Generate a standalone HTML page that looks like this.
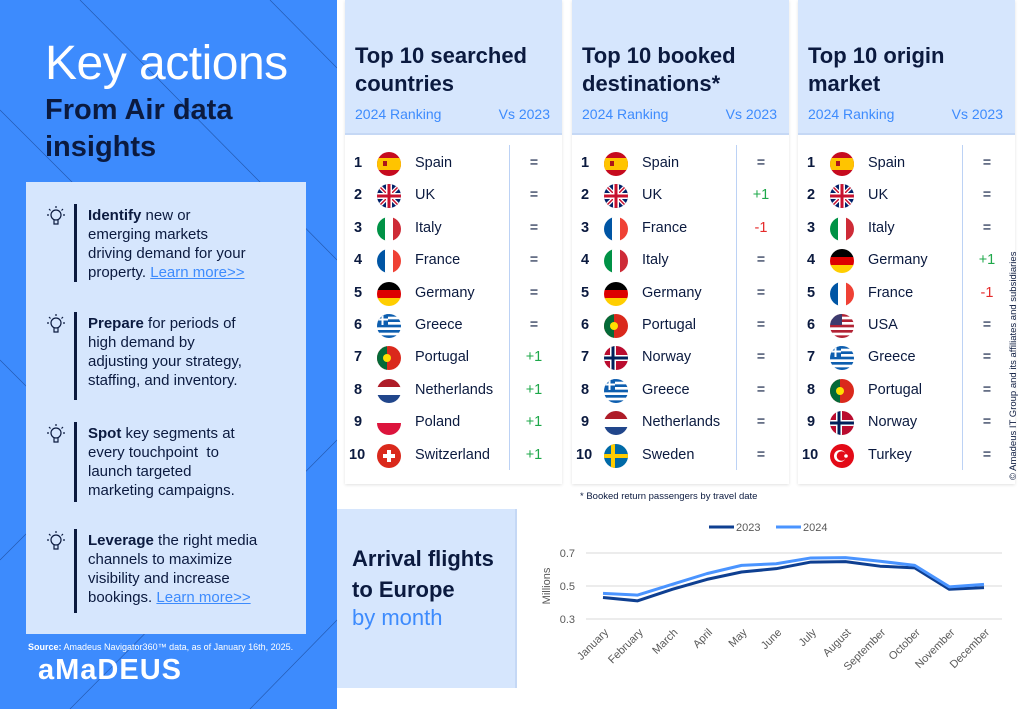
<!DOCTYPE html>
<html><head><meta charset="utf-8">
<style>
*{margin:0;padding:0;box-sizing:border-box}
body{width:1024px;height:709px;overflow:hidden;background:#fff;font-family:"Liberation Sans",sans-serif;position:relative;color:#0b1a3f}
#left{position:absolute;left:0;top:0;width:337px;height:709px;background:#3d8bfd;overflow:hidden}
.abs{position:absolute}
h1{position:absolute;left:45px;top:36px;font-size:48px;font-weight:normal;color:#fff;letter-spacing:-0.5px}
h2{position:absolute;left:45px;top:92px;font-size:29px;line-height:37px;color:#0b1a3f;font-weight:bold}
#box{position:absolute;left:26px;top:182px;width:280px;height:452px;background:#d6e6fd}
.item{position:absolute;left:48px;width:230px;font-size:15px;line-height:19px;color:#0b1a3f}
.item .bar{position:absolute;left:26px;top:0;width:3px;background:#0b1a3f}
.item .txt{position:absolute;left:40px;top:2px;white-space:nowrap}
.item a{color:#3d8bfd;text-decoration:underline}
.card{position:absolute;top:0;width:217px;height:484px;background:#fff;box-shadow:0 1px 3px rgba(0,0,0,0.12)}
.card .hd{position:absolute;left:0;top:0;width:100%;height:135px;background:#d6e6fd;border-bottom:2px solid #c5d8f5}
.card .t{position:absolute;left:10px;top:42px;font-size:22px;line-height:28px;font-weight:bold;color:#0b1a3f}
.card .sub{position:absolute;left:10px;top:106px;right:12px;font-size:14px;color:#3d8bfd}
.card .sub span:last-child{float:right}
.card .vl{position:absolute;left:164px;top:145px;width:1px;height:325px;background:#bcd2f5}
.row{position:absolute;left:0;width:100%;height:30px;font-size:14.5px}
.row .n{position:absolute;left:9px;top:6px;font-weight:bold}
.row svg{position:absolute;left:32px;top:3px}
.row .c{position:absolute;left:70px;top:6px}
.row .d{position:absolute;left:164px;width:50px;text-align:center;top:6px}
#arr{position:absolute;left:337px;top:509px;width:180px;height:179px;background:#d6e6fd;border-right:2px solid #c5d8f5}
</style></head><body>
<div id="left">
<svg class="abs" style="left:0;top:0" width="337" height="709">
<g stroke="#1f4fa0" stroke-width="0.7" opacity="0.8">
<line x1="80" y1="0" x2="337" y2="260"/><line x1="270" y1="0" x2="337" y2="68"/>
<line x1="0" y1="110" x2="170" y2="280"/><line x1="0" y1="360" x2="30" y2="390"/>
<line x1="0" y1="560" x2="30" y2="530"/><line x1="70" y1="709" x2="337" y2="440"/>
<line x1="250" y1="709" x2="337" y2="620"/></g></svg>
<h1>Key actions</h1>
<h2>From Air data<br>insights</h2>
<div id="box"></div>
<div class="abs" style="left:28px;top:642px;font-size:9px;color:#fff"><b>Source:</b> Amadeus Navigator360™ data, as of January 16th, 2025.</div>
<div class="abs" style="left:38px;top:654px;font-size:29px;color:#fff;font-weight:bold;letter-spacing:1px">aMaDEUS</div>
</div>
<div class="item" style="top:204px;height:80px"><div class="bar" style="height:78px"></div><div class="txt"><b>Identify</b> new or<br>emerging markets<br>driving demand for your<br>property. <a>Learn more&gt;&gt;</a></div></div>
<div class="item" style="top:312px;height:90px"><div class="bar" style="height:88px"></div><div class="txt"><b>Prepare</b> for periods of<br>high demand by<br>adjusting your strategy,<br>staffing, and inventory.</div></div>
<div class="item" style="top:422px;height:80px"><div class="bar" style="height:80px"></div><div class="txt"><b>Spot</b> key segments at<br>every touchpoint&nbsp; to<br>launch targeted<br>marketing campaigns.</div></div>
<div class="item" style="top:529px;height:86px"><div class="bar" style="height:84px"></div><div class="txt"><b>Leverage</b> the right media<br>channels to maximize<br>visibility and increase<br>bookings. <a>Learn more&gt;&gt;</a></div></div>

<div class="card" style="left:345px" id="c1"><div class="hd"></div><div class="t">Top 10 searched<br>countries</div><div class="sub"><span>2024 Ranking</span><span>Vs 2023</span></div><div class="vl"></div></div>
<div class="card" style="left:572px" id="c2"><div class="hd"></div><div class="t">Top 10 booked<br>destinations*</div><div class="sub"><span>2024 Ranking</span><span>Vs 2023</span></div><div class="vl"></div></div>
<div class="card" style="left:798px" id="c3"><div class="hd"></div><div class="t">Top 10 origin<br>market</div><div class="sub"><span>2024 Ranking</span><span>Vs 2023</span></div><div class="vl"></div></div>
<div class="abs" style="left:580px;top:491px;font-size:9.5px;color:#0b1a3f">* Booked return passengers by travel date</div>
<div class="abs" style="left:1008px;top:480px;transform:rotate(-90deg);transform-origin:0 0;font-size:9.5px;color:#0b1a3f;white-space:nowrap">© Amadeus IT Group and its affiliates and subsidiaries</div>

<div id="arr">
<div class="abs" style="left:15px;top:34px;font-size:22px;line-height:31px;font-weight:bold;color:#0b1a3f">Arrival flights<br>to Europe</div>
<div class="abs" style="left:15px;top:96px;font-size:22px;color:#3d8bfd">by month</div>
</div>
<svg id="chart" class="abs" style="left:520px;top:510px" width="504" height="199"></svg>

<script>
const months=["January","February","March","April","May","June","July","August","September","October","November","December"];
const series2023=[0.43,0.41,0.48,0.54,0.585,0.605,0.645,0.648,0.62,0.61,0.48,0.49];
const series2024=[0.455,0.445,0.51,0.575,0.625,0.635,0.67,0.672,0.65,0.625,0.495,0.51];
const yTicks=[0.3,0.5,0.7];
const searched=[["Spain","es","="],["UK","uk","="],["Italy","it","="],["France","fr","="],["Germany","de","="],["Greece","gr","="],["Portugal","pt","+1"],["Netherlands","nl","+1"],["Poland","pl","+1"],["Switzerland","ch","+1"]];
const booked=[["Spain","es","="],["UK","uk","+1"],["France","fr","-1"],["Italy","it","="],["Germany","de","="],["Portugal","pt","="],["Norway","no","="],["Greece","gr","="],["Netherlands","nl","="],["Sweden","se","="]];
const origin=[["Spain","es","="],["UK","uk","="],["Italy","it","="],["Germany","de","+1"],["France","fr","-1"],["USA","us","="],["Greece","gr","="],["Portugal","pt","="],["Norway","no","="],["Turkey","tr","="]];

function flag(code){
 let b='';
 const h=(c)=>c.map((col,i)=>`<rect x="0" y="${i*24/c.length}" width="24" height="${24/c.length+0.5}" fill="${col}"/>`).join('');
 const v=(c)=>c.map((col,i)=>`<rect x="${i*8}" y="0" width="8.5" height="24" fill="${col}"/>`).join('');
 switch(code){
 case 'es':b=`<rect width="24" height="24" fill="#c60b1e"/><rect y="6" width="24" height="12" fill="#ffc400"/><rect x="6" y="9" width="4" height="5" fill="#ad1519"/>`;break;
 case 'uk':b=`<rect width="24" height="24" fill="#012169"/><path d="M0 0L24 24M24 0L0 24" stroke="#fff" stroke-width="4"/><path d="M0 0L24 24M24 0L0 24" stroke="#c8102e" stroke-width="1.5"/><path d="M12 0V24M0 12H24" stroke="#fff" stroke-width="6"/><path d="M12 0V24M0 12H24" stroke="#c8102e" stroke-width="3"/>`;break;
 case 'it':b=v(["#009246","#fff","#ce2b37"]);break;
 case 'fr':b=v(["#0055a4","#fff","#ef4135"]);break;
 case 'de':b=h(["#000","#dd0000","#ffce00"]);break;
 case 'nl':b=h(["#ae1c28","#fff","#21468b"]);break;
 case 'pl':b=h(["#fff","#dc143c"]);break;
 case 'gr':b=h(["#0d5eaf","#fff","#0d5eaf","#fff","#0d5eaf","#fff","#0d5eaf","#fff","#0d5eaf"])+`<rect width="11" height="11" fill="#0d5eaf"/><path d="M5.5 0V11M0 5.5H11" stroke="#fff" stroke-width="2"/>`;break;
 case 'pt':b=`<rect width="24" height="24" fill="#da291c"/><rect width="10" height="24" fill="#046a38"/><circle cx="10" cy="12" r="4" fill="#ffe000"/>`;break;
 case 'ch':b=`<rect width="24" height="24" fill="#da291c"/><path d="M12 6V18M6 12H18" stroke="#fff" stroke-width="4"/>`;break;
 case 'no':b=`<rect width="24" height="24" fill="#ba0c2f"/><path d="M9 0V24M0 12H24" stroke="#fff" stroke-width="6"/><path d="M9 0V24M0 12H24" stroke="#00205b" stroke-width="3"/>`;break;
 case 'se':b=`<rect width="24" height="24" fill="#006aa7"/><path d="M9 0V24M0 12H24" stroke="#fecc00" stroke-width="4"/>`;break;
 case 'us':b=h(["#b22234","#fff","#b22234","#fff","#b22234","#fff","#b22234","#fff","#b22234"])+`<rect width="12" height="11" fill="#3c3b6e"/>`;break;
 case 'tr':b=`<rect width="24" height="24" fill="#e30a17"/><circle cx="10" cy="12" r="6" fill="#fff"/><circle cx="11.5" cy="12" r="4.8" fill="#e30a17"/><circle cx="16" cy="12" r="1.8" fill="#fff"/>`;break;
 }
 return `<svg width="24" height="24" viewBox="0 0 24 24"><clipPath id="cp${code}"><circle cx="12" cy="12" r="12"/></clipPath><g clip-path="url(#cp${code})">${b}</g></svg>`;
}
function fill(id,data){
 const card=document.getElementById(id);
 data.forEach((r,i)=>{
  const d=document.createElement('div');
  d.className='row';d.style.top=(149+i*32.4)+'px';
  
  
  const col=r[2]==='+1'?'#1ea84a':(r[2]==='-1'?'#e52a2a':'#0b1a3f');
  d.innerHTML=`<span class="n"${i==9?' style="left:4px"':''}>${i+1}</span>${flag(r[1])}<span class="c">${r[0]}</span><span class="d" style="color:${col}">${r[2]}</span>`;
  card.appendChild(d);
 });
}
fill('c1',searched);fill('c2',booked);fill('c3',origin);

[204,312,422,529].forEach(t=>{
 const s=document.createElementNS('http://www.w3.org/2000/svg','svg');
 
 
 s.setAttribute('width','22');s.setAttribute('height','24');
 s.style.cssText=`position:absolute;left:45px;top:${t}px`;
 s.innerHTML='<g fill="none" stroke="#0b1a3f" stroke-width="1.2"><circle cx="11" cy="11" r="5"/><path d="M9 16V20H13V16"/><path d="M11 2V4M4 5L5.5 6.5M18 5L16.5 6.5M2 11H4M18 11H20"/></g>';
 document.body.appendChild(s);
});

const svg=document.getElementById('chart');
const NS='http://www.w3.org/2000/svg';
const PL=66,PR=482;
function yy(v){return 109-(v-0.3)/(0.7-0.3)*66;}
function xx(i){return 83+i*(464-83)/(months.length-1);}
function el(tag,attrs,name){const e=document.createElementNS(NS,tag);for(const k in attrs)e.setAttribute(k,attrs[k]);svg.appendChild(e);return e;}
yTicks.forEach(t=>{
 el('line',{x1:PL,x2:PR,y1:yy(t),y2:yy(t),stroke:'#d9d9d9','stroke-width':1},'gridline');
 const tx=el('text',{x:55,y:yy(t)+4,'text-anchor':'end','font-size':11,fill:'#595959','font-family':'Liberation Sans'},'y-tick-label');tx.textContent=t.toFixed(1);
});
const yt=el('text',{x:0,y:0,transform:'translate(30,76) rotate(-90)','text-anchor':'middle','font-size':11,fill:'#595959','font-family':'Liberation Sans'},'y-axis-title');yt.textContent='Millions';
months.forEach((m,i)=>{
 const t=el('text',{x:0,y:0,transform:`translate(${xx(i)+6},${yy(0.3)+14}) rotate(-45)`,'text-anchor':'end','font-size':11,fill:'#595959','font-family':'Liberation Sans'},'x-tick-label');t.textContent=m;
});
[[series2023,'#0e3f91','series-2023'],[series2024,'#4a94ff','series-2024']].forEach(([s,c,n])=>{
 el('polyline',{points:s.map((v,i)=>xx(i)+','+yy(v)).join(' '),fill:'none',stroke:c,'stroke-width':3,'stroke-linejoin':'round'},n);
});
el('line',{x1:189,x2:214,y1:17,y2:17,stroke:'#0e3f91','stroke-width':3},'legend-swatch-2023');
let lt=el('text',{x:216,y:21,'font-size':11,fill:'#595959','font-family':'Liberation Sans'},'legend-label-2023');lt.textContent='2023';
el('line',{x1:256,x2:281,y1:17,y2:17,stroke:'#4a94ff','stroke-width':3},'legend-swatch-2024');
lt=el('text',{x:283,y:21,'font-size':11,fill:'#595959','font-family':'Liberation Sans'},'legend-label-2024');lt.textContent='2024';
</script>
</body></html>
